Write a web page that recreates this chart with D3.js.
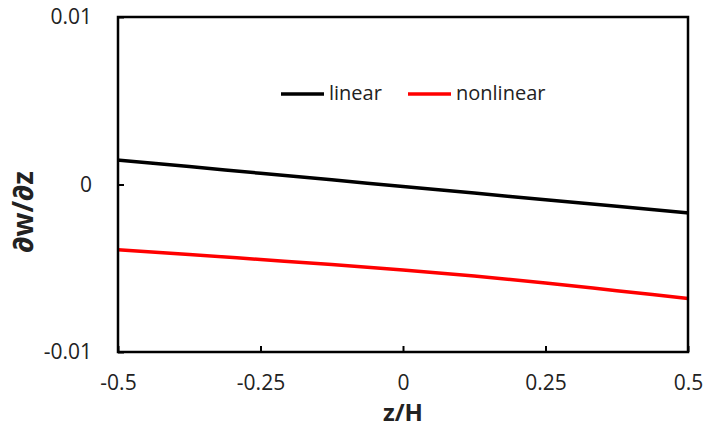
<!DOCTYPE html>
<style>
body { margin: 0; background: #fff; }
.axis text { font-family: "Open Sans", sans-serif; font-size: 21px; fill: #222; }
.axis .domain { display: none; }
.legend text { font-family: "Open Sans", sans-serif; font-size: 20px; fill: #222; }
.title { font-family: "Open Sans", sans-serif; font-weight: bold; fill: #222; }
</style>
<svg id="chart" width="704" height="444"></svg>
<script src="https://d3js.org/d3.v7.min.js"></script>
<script>

var zValues = [-0.5, -0.375, -0.25, -0.125, 0, 0.125, 0.25, 0.375, 0.5];
var linearValues = [0.00146, 0.00107, 0.00067, 0.00028, -0.00012, -0.00051, -0.00091, -0.0013, -0.0017];
var nonlinearValues = [-0.0039, -0.00418, -0.00448, -0.00478, -0.0051, -0.00546, -0.00588, -0.00634, -0.0068];
var xTicks = [-0.5, -0.25, 0, 0.25, 0.5];
var yTicks = [-0.01, 0, 0.01];
var seriesNames = ["linear", "nonlinear"];
var seriesColors = ["#000000", "#ff0000"];

var svg = d3.select("#chart"),
    margin = {top: 17, right: 16, bottom: 92, left: 118},
    width = +svg.attr("width") - margin.left - margin.right,
    height = +svg.attr("height") - margin.top - margin.bottom,
    g = svg.append("g").attr("transform", "translate(" + margin.left + "," + margin.top + ")");

var x = d3.scaleLinear().domain([-0.5, 0.5]).range([0, width]);
var y = d3.scaleLinear().domain([-0.01, 0.01]).range([height, 0]);

var series = [linearValues, nonlinearValues].map(function(vals, i) {
  return {name: seriesNames[i], color: seriesColors[i],
    points: zValues.map(function(z, j) { return {z: z, v: vals[j]}; })};
});

var line = d3.line()
    .curve(d3.curveMonotoneX)
    .x(function(d) { return x(d.z); })
    .y(function(d) { return y(d.v); });

g.selectAll(".series")
  .data(series)
  .enter().append("path")
    .attr("class", "series")
    .attr("fill", "none")
    .attr("stroke", function(d) { return d.color; })
    .attr("stroke-width", 3.5)
    .attr("d", function(d) { return line(d.points); });

g.append("g")
    .attr("class", "axis")
    .attr("transform", "translate(0," + height + ")")
    .call(d3.axisBottom(x).tickValues(xTicks).tickSizeInner(-6).tickSizeOuter(0).tickPadding(23)
      .tickFormat(function(d) { return d; }))
    .selectAll("line").attr("stroke", "#000").attr("stroke-width", 2);

g.append("g")
    .attr("class", "axis")
    .call(d3.axisLeft(y).tickValues(yTicks).tickSizeInner(-6).tickSizeOuter(0).tickPadding(26)
      .tickFormat(function(d) { return d; }))
    .selectAll("line").attr("stroke", "#000").attr("stroke-width", 2);

// plot frame
g.append("rect")
    .attr("width", width)
    .attr("height", height)
    .attr("fill", "none")
    .attr("stroke", "#000")
    .attr("stroke-width", 2.5);

var legend = g.append("g")
    .attr("class", "legend")
  .selectAll("g")
  .data(series)
  .enter().append("g")
    .attr("transform", function(d, i) { return "translate(" + (163 + i * 127) + ",77)"; });

legend.append("line")
    .attr("x1", 0)
    .attr("x2", 43)
    .attr("stroke", function(d) { return d.color; })
    .attr("stroke-width", 3.5);

legend.append("text")
    .attr("x", 48)
    .attr("dy", "0.32em")
    .text(function(d) { return d.name; });

svg.append("text")
    .attr("class", "title")
    .attr("x", margin.left + width / 2)
    .attr("y", 421)
    .attr("text-anchor", "middle")
    .attr("font-size", 24)
    .text("z/H");

svg.append("text")
    .attr("class", "title")
    .attr("transform", "translate(33,212) rotate(-90)")
    .attr("text-anchor", "middle")
    .attr("font-size", 28)
    .text("∂w/∂z");

</script>
